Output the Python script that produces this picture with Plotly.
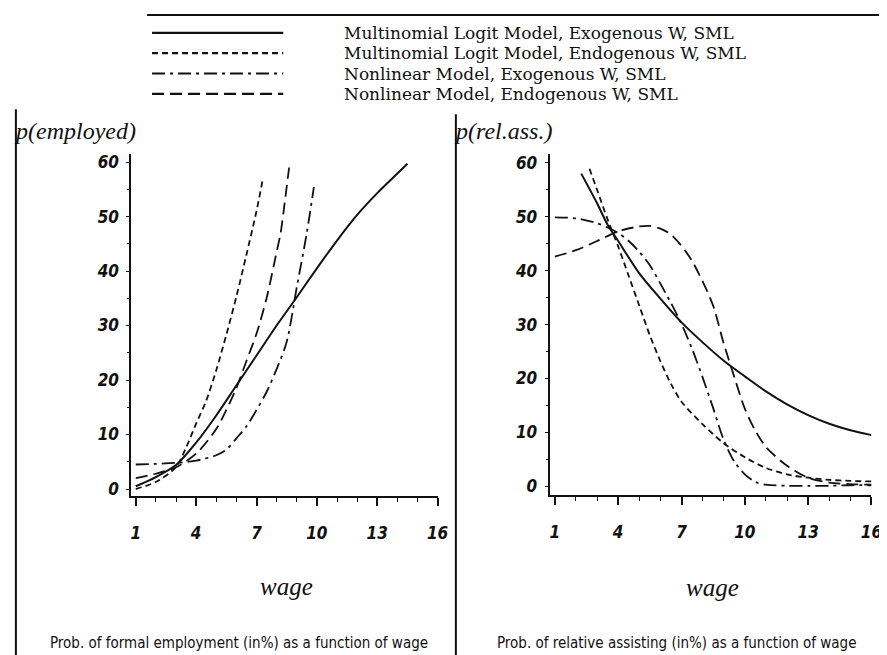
import plotly.graph_objects as go

W, H = 887, 655

# ---------------- data ----------------
# Left panel: p(employed) in %
emp_mnl_exo_w = [1.0, 2, 3, 4, 5, 6, 7, 8, 9, 10, 11, 12, 13, 14, 14.5]
emp_mnl_exo_v = [0.5, 2.2, 4.4, 8.5, 13.5, 19, 24.5, 30, 35.2, 40.5, 45.6, 50.3, 54.3, 57.9, 59.7]

emp_mnl_endo_w = [1.0, 2, 3, 3.5, 4, 4.5, 5, 5.5, 6, 6.5, 7, 7.3]
emp_mnl_endo_v = [0.0, 1.3, 4, 7.6, 12, 16.2, 21.8, 28.3, 35.3, 43, 51, 56.6]

emp_nl_exo_w = [1.0, 2, 3, 4, 5, 5.5, 6, 6.5, 7, 7.5, 8, 8.5, 9, 9.5, 9.85]
emp_nl_exo_v = [4.5, 4.6, 4.8, 5.2, 6.2, 7.2, 9.3, 11.5, 14.5, 17.8, 22, 27, 37, 47, 55.4]

emp_nl_endo_w = [1.0, 2, 3, 4, 5, 5.5, 6, 6.5, 7, 7.5, 8, 8.2, 8.4, 8.62]
emp_nl_endo_v = [2.0, 2.8, 4, 6.5, 11, 14.5, 18.5, 23.5, 28.5, 35, 43.5, 47, 52.5, 59]

# Right panel: p(rel.ass.) in %
rel_mnl_exo_w = [2.25, 3, 3.5, 4, 5, 6, 7, 8, 9, 10, 11, 12, 13, 14, 15, 16]
rel_mnl_exo_v = [58, 52.5, 48.5, 45.5, 39.5, 34.8, 30.4, 26.7, 23.3, 20.4, 17.6, 15.2, 13.2, 11.6, 10.4, 9.5]

rel_mnl_endo_w = [2.64, 3, 3.5, 4, 4.5, 5, 5.5, 6, 6.5, 7, 8, 9, 10, 11, 12, 13, 14, 15, 16]
rel_mnl_endo_v = [58.9, 55, 49.5, 44.5, 39, 33.5, 28, 23.2, 19, 15.7, 11.5, 8, 5.4, 3.4, 2.2, 1.6, 1.2, 1.0, 0.9]

rel_nl_exo_w = [1.0, 2, 3, 3.5, 4, 4.5, 5, 5.5, 6, 6.5, 7, 7.5, 8, 8.5, 9, 9.5, 10, 10.5, 11, 12, 13, 14, 15, 16]
rel_nl_exo_v = [49.9, 49.7, 48.8, 48, 47, 45.5, 43.5, 41, 37.6, 34, 30.1, 25.5, 20.2, 14.5, 8.6, 4.6, 2.2, 0.8, 0.3, 0.1, 0.1, 0.1, 0.2, 0.2]

rel_nl_endo_w = [1.0, 2, 3, 4, 5, 5.5, 6, 6.5, 7, 7.5, 8, 8.5, 9, 9.5, 10, 10.5, 11, 12, 13, 14, 15, 16]
rel_nl_endo_v = [42.6, 43.8, 45.5, 47.3, 48.2, 48.3, 47.8, 46.7, 44.6, 41.8, 38, 33.5, 26.5, 20.3, 14.4, 10.3, 7.3, 3.8, 1.6, 0.7, 0.4, 0.3]

series_names = [
    "Multinomial Logit Model, Exogenous W, SML",
    "Multinomial Logit Model, Endogenous W, SML",
    "Nonlinear Model, Exogenous W, SML",
    "Nonlinear Model, Endogenous W, SML",
]
x_tickvals = [1, 4, 7, 10, 13, 16]
y_tickvals = [0, 10, 20, 30, 40, 50, 60]

# ---------------- styles ----------------
INK = "#111111"
dashes = ["solid", "6px,4px", "13px,5px,3px,5px", "12px,6px"]
widths = [2.0, 1.8, 1.8, 1.8]

fig = go.Figure()

left = [(emp_mnl_exo_w, emp_mnl_exo_v), (emp_mnl_endo_w, emp_mnl_endo_v),
        (emp_nl_exo_w, emp_nl_exo_v), (emp_nl_endo_w, emp_nl_endo_v)]
right = [(rel_mnl_exo_w, rel_mnl_exo_v), (rel_mnl_endo_w, rel_mnl_endo_v),
         (rel_nl_exo_w, rel_nl_exo_v), (rel_nl_endo_w, rel_nl_endo_v)]

for i, (xw, yv) in enumerate(left):
    fig.add_trace(go.Scatter(x=xw, y=yv, mode="lines", name=series_names[i],
                             line=dict(color=INK, width=widths[i], dash=dashes[i], shape="spline", smoothing=0.8),
                             xaxis="x", yaxis="y", showlegend=False))
for i, (xw, yv) in enumerate(right):
    fig.add_trace(go.Scatter(x=xw, y=yv, mode="lines", name=series_names[i],
                             line=dict(color=INK, width=widths[i], dash=dashes[i], shape="spline", smoothing=0.8),
                             xaxis="x2", yaxis="y2", showlegend=False))

NARROW = "DejaVu Sans Condensed, Liberation Sans Narrow, Arial Narrow, sans-serif"
tickfont = dict(family=NARROW, size=17, color=INK, style="italic", weight="bold")

def xax(dom, rng):
    return dict(domain=dom, range=rng, showline=True, linecolor=INK, linewidth=2,
                ticks="outside", ticklen=8, tickwidth=1.5, tickcolor=INK,
                tickvals=x_tickvals, tickfont=tickfont, ticklabelstandoff=12,
                minor=dict(dtick=1, tick0=1, ticks="outside", ticklen=4, tickwidth=1.2, tickcolor=INK),
                showgrid=False, zeroline=False, fixedrange=True)

def yax(dom, rng, anchor):
    return dict(domain=dom, range=rng, showline=True, linecolor=INK, linewidth=2,
                ticks="outside", ticklen=3, tickwidth=1.2, tickcolor=INK,
                tickvals=y_tickvals, tickfont=tickfont, ticklabelstandoff=4,
                minor=dict(dtick=5, tick0=0, ticks="outside", ticklen=2, tickwidth=1, tickcolor=INK),
                showgrid=False, zeroline=False, anchor=anchor, fixedrange=True)

fig.update_layout(
    width=W, height=H,
    margin=dict(l=0, r=0, t=0, b=0),
    paper_bgcolor="white", plot_bgcolor="white",
    showlegend=False,
    xaxis=dict(**xax([124 / W, 434.5 / W], [0.78, 16]), anchor="y"),
    yaxis=yax([165 / H, 510 / H], [-1.33, 61.5], "x"),
    xaxis2=dict(**xax([548 / W, 874.3 / W], [0.75, 16]), anchor="y2"),
    yaxis2=yax([166 / H, 510 / H], [-1.66, 61.66], "x2"),
)

def px(x):
    return x / W

def py(y):
    return 1 - y / H

shapes = []
# frame lines
shapes.append(dict(type="line", xref="paper", yref="paper", x0=px(140), x1=px(887), y0=py(5), y1=py(5),
                   line=dict(color=INK, width=2)))
shapes.append(dict(type="line", xref="paper", yref="paper", x0=px(7), x1=px(7), y0=py(100), y1=py(655),
                   line=dict(color=INK, width=2)))
shapes.append(dict(type="line", xref="paper", yref="paper", x0=px(453), x1=px(453), y0=py(105), y1=py(655),
                   line=dict(color=INK, width=2)))
shapes.append(dict(type="line", xref="paper", yref="paper", x0=px(453), x1=px(887), y0=py(653), y1=py(653),
                   line=dict(color="#444444", width=2)))

annotations = []
# custom legend
leg_rows = [23, 43.5, 64, 84.5]
for i, name in enumerate(series_names):
    shapes.append(dict(type="line", xref="paper", yref="paper", x0=px(145), x1=px(278),
                       y0=py(leg_rows[i]), y1=py(leg_rows[i]),
                       line=dict(color=INK, width=2.2, dash=dashes[i])))
    annotations.append(dict(xref="paper", yref="paper", x=px(338), y=py(leg_rows[i]), text=name,
                            showarrow=False, xanchor="left", yanchor="middle",
                            font=dict(family="DejaVu Serif, Liberation Serif, serif", size=17, color=INK)))

ylab_font = dict(family="Liberation Serif, DejaVu Serif, serif", size=24, color=INK, style="italic")
annotations.append(dict(xref="paper", yref="paper", x=px(3), y=py(122), text="p(employed)",
                        showarrow=False, xanchor="left", yanchor="middle", font=ylab_font))
annotations.append(dict(xref="paper", yref="paper", x=px(449), y=py(122), text="p(rel.ass.)",
                        showarrow=False, xanchor="left", yanchor="middle", font=ylab_font))

wage_font = dict(family="Liberation Serif, DejaVu Serif, serif", size=25, color=INK, style="italic")
annotations.append(dict(xref="paper", yref="paper", x=px(281), y=py(581), text="wage",
                        showarrow=False, xanchor="center", yanchor="middle", font=wage_font))
annotations.append(dict(xref="paper", yref="paper", x=px(713), y=py(582), text="wage",
                        showarrow=False, xanchor="center", yanchor="middle", font=wage_font))

cap_font = dict(family=NARROW, size=15, color=INK)
annotations.append(dict(xref="paper", yref="paper", x=px(233), y=py(638),
                        text="Prob. of formal employment (in%) as a function of wage",
                        showarrow=False, xanchor="center", yanchor="middle", font=cap_font))
annotations.append(dict(xref="paper", yref="paper", x=px(677), y=py(638),
                        text="Prob. of relative assisting (in%) as a function of wage",
                        showarrow=False, xanchor="center", yanchor="middle", font=cap_font))

fig.update_layout(shapes=shapes, annotations=annotations)

fig.write_html("out.html")
